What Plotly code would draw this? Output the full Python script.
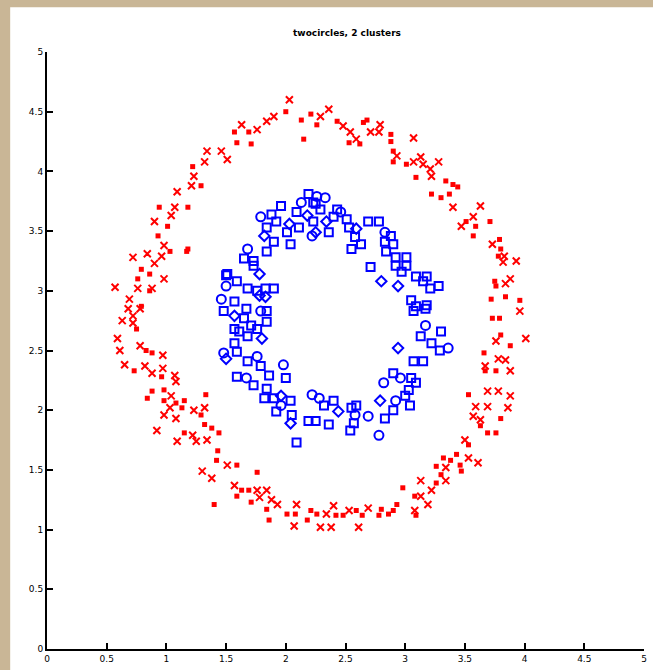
import plotly.graph_objects as go

# ---- data ----
red_x_x = [2.03,1.90,1.84,1.76,1.63,1.46,1.51,1.34,1.32,1.23,1.21,1.09,1.07,1.04,0.90,0.98,0.96,0.84,0.72,0.90,
           0.98,0.88,0.57,0.76,0.69,0.68,0.78,0.72,0.63,0.72,0.59,0.61,0.78,0.97,0.65,0.82,0.88,0.97,1.07,1.08,
           1.04,1.03,0.98,1.08,1.23,1.32,0.92,1.09,1.22,1.25,1.34,1.51,1.30,1.38,1.57,1.76,1.84,1.78,1.88,1.93,
           2.09,2.07,2.34,2.38,2.29,2.40,2.53,2.61,2.69,3.08,3.19,3.13,3.22,3.13,3.34,3.34,3.61,3.53,3.50,3.63,
           3.57,3.86,3.69,3.59,3.88,3.78,3.69,3.88,3.67,3.84,3.78,4.01,3.76,3.96,3.84,3.88,3.93,3.82,3.83,3.73,
           3.47,3.57,3.63,3.40,3.22,3.28,3.21,3.15,3.13,3.07,3.07,2.93,2.79,2.78,2.71,2.59,2.54,2.48,2.36,2.29]
red_x_y = [4.60,4.46,4.42,4.35,4.39,4.17,4.10,4.17,4.08,3.96,3.88,3.83,3.70,3.63,3.58,3.38,3.29,3.31,3.28,3.23,
           3.10,3.02,3.03,3.02,2.93,2.85,2.85,2.79,2.75,2.73,2.60,2.50,2.54,2.46,2.38,2.37,2.31,2.35,2.29,2.24,
           2.12,2.02,1.96,1.93,2.00,2.02,1.83,1.74,1.79,1.74,1.75,1.54,1.49,1.43,1.37,1.33,1.33,1.27,1.25,1.21,
           1.21,1.03,1.13,1.02,1.02,1.20,1.16,1.02,1.18,1.16,1.21,1.28,1.33,1.41,1.41,1.52,1.56,1.60,1.75,1.92,
           1.95,2.02,2.03,2.03,2.12,2.16,2.16,2.33,2.37,2.42,2.43,2.60,2.58,2.83,3.06,3.10,3.25,3.24,3.29,3.39,
           3.54,3.62,3.71,3.70,3.96,4.08,4.02,4.06,4.12,4.08,4.28,4.13,4.39,4.33,4.33,4.27,4.33,4.38,4.52,4.46]

red_dot_x = [2.00,2.13,2.15,1.69,1.71,1.57,1.59,1.22,1.29,1.18,0.94,1.01,0.93,1.18,0.79,0.76,0.79,1.03,1.17,0.86,
             0.86,0.75,0.83,0.88,0.73,0.96,0.88,0.84,0.98,0.98,1.08,1.15,1.13,1.33,1.29,1.15,1.32,1.38,1.44,1.43,
             1.42,1.59,1.40,1.76,1.63,1.59,1.69,1.71,1.84,2.01,2.08,2.21,2.18,1.86,2.26,2.42,2.48,2.59,2.64,2.78,
             2.80,2.86,2.90,2.93,3.09,3.08,2.98,3.26,3.30,3.47,3.26,3.32,3.46,3.38,3.43,3.53,3.76,3.69,3.63,3.80,
             3.53,3.67,3.76,3.66,3.88,3.80,3.73,3.79,3.96,3.84,3.72,3.76,3.75,3.78,3.80,3.79,3.57,3.71,3.59,3.51,
             3.37,3.30,3.22,3.44,3.40,3.34,3.09,3.01,2.90,2.90,2.88,2.88,2.68,2.65,2.62,2.53,2.43,2.21,2.26]
red_dot_y = [4.50,4.43,4.27,4.33,4.23,4.33,4.24,4.04,3.88,3.70,3.70,3.54,3.46,3.35,3.18,3.10,2.87,3.33,3.33,3.14,
             3.00,2.68,2.50,2.48,2.33,2.28,2.16,2.10,2.17,2.08,2.06,2.08,2.02,2.13,1.96,1.81,1.88,1.85,1.81,1.66,
             1.58,1.54,1.21,1.48,1.33,1.28,1.33,1.23,1.17,1.13,1.13,1.16,1.08,1.08,1.13,1.12,1.12,1.16,1.12,1.12,
             1.17,1.13,1.16,1.21,1.12,1.28,1.35,1.39,1.46,1.49,1.53,1.60,1.54,1.58,1.63,1.71,1.81,1.81,1.87,1.93,
             2.13,2.33,2.33,2.48,2.54,2.63,2.77,2.77,2.92,2.95,2.93,3.04,3.08,3.29,3.35,3.43,3.46,3.58,3.54,3.58,
             3.81,3.78,3.81,3.87,3.89,3.92,3.95,4.06,4.08,4.17,4.25,4.31,4.43,4.41,4.23,4.24,4.42,4.48,4.39]

blue_sq_x = [2.19,2.23,2.09,1.96,1.88,1.92,1.84,2.01,2.04,1.90,1.84,1.65,1.73,1.51,1.59,1.68,1.76,1.90,1.57,1.67,
             1.84,1.48,1.65,1.71,1.84,1.57,1.68,1.76,1.59,1.68,1.79,1.59,1.73,1.86,2.00,1.84,1.82,1.90,2.04,1.92,
             2.05,2.09,2.19,2.25,2.36,2.32,2.40,2.54,2.57,2.59,2.55,2.83,2.90,3.04,3.00,3.03,3.09,3.05,2.90,3.15,
             3.07,3.29,3.22,3.30,3.13,3.17,3.07,3.09,3.18,3.05,3.21,3.28,3.15,3.18,3.09,2.97,3.01,2.92,2.71,3.01,
             2.92,2.84,2.90,2.83,2.88,2.55,2.63,2.58,2.78,2.69,2.53,2.51,2.36,2.40,2.43,2.29,2.25,2.23,1.50,1.61,
             1.83,1.57,1.73,2.11]
blue_sq_y = [3.81,3.74,3.66,3.71,3.64,3.58,3.53,3.49,3.39,3.41,3.33,3.27,3.21,3.14,3.08,3.02,3.00,3.02,2.91,2.85,
             2.83,2.83,2.77,2.71,2.74,2.68,2.62,2.68,2.49,2.41,2.37,2.28,2.21,2.29,2.27,2.18,2.10,2.10,2.08,1.99,
             1.96,1.73,1.91,1.91,1.88,2.04,2.08,1.83,1.89,2.04,2.02,1.93,2.00,2.04,2.12,2.17,2.23,2.27,2.31,2.41,
             2.41,2.50,2.56,2.66,2.62,2.85,2.83,2.87,2.88,2.92,3.02,3.04,3.08,3.12,3.12,3.16,3.21,3.21,3.20,3.28,
             3.28,3.33,3.39,3.41,3.46,3.35,3.39,3.45,3.58,3.58,3.53,3.60,3.49,3.62,3.68,3.68,3.73,3.58,3.13,2.66,
             3.02,2.56,3.25,3.53]

blue_ci_x = [2.13,1.79,2.22,1.68,1.50,1.46,1.79,1.76,1.67,1.98,1.96,2.22,2.28,2.58,2.69,2.78,2.92,2.96,2.82,3.36,
             3.17,2.83,2.46,2.33,2.26,1.48]
blue_ci_y = [3.74,3.62,3.46,3.35,3.04,2.93,2.83,2.45,2.27,2.38,2.04,2.13,2.10,1.96,1.95,1.79,2.08,2.27,2.23,2.52,
             2.71,3.49,3.66,3.78,3.79,2.48]

blue_di_x = [2.18,1.82,1.78,1.83,1.57,1.80,1.50,1.96,2.04,2.44,2.79,2.94,2.94,2.80,2.59,2.34,2.25,1.78,2.03]
blue_di_y = [3.63,3.46,3.14,2.95,2.79,2.60,2.43,2.12,1.89,1.99,2.08,2.52,3.04,3.08,3.52,3.58,3.49,2.96,3.56]

tick_vals = [0, 0.5, 1, 1.5, 2, 2.5, 3, 3.5, 4, 4.5, 5]
tick_text = ["0", "0.5", "1", "1.5", "2", "2.5", "3", "3.5", "4", "4.5", "5"]

RED = "#ff0000"
BLUE = "#0000ff"
TAN = "#c9b696"

fig = go.Figure()
fig.add_trace(go.Scatter(x=red_x_x, y=red_x_y, mode="markers",
                         marker=dict(symbol="x-thin", size=7, color=RED, line=dict(color=RED, width=2))))
fig.add_trace(go.Scatter(x=red_dot_x, y=red_dot_y, mode="markers",
                         marker=dict(symbol="square", size=5, color=RED, line=dict(width=0))))
fig.add_trace(go.Scatter(x=blue_sq_x, y=blue_sq_y, mode="markers",
                         marker=dict(symbol="square-open", size=8, color=BLUE, line=dict(color=BLUE, width=2))))
fig.add_trace(go.Scatter(x=blue_ci_x, y=blue_ci_y, mode="markers",
                         marker=dict(symbol="circle-open", size=9, color=BLUE, line=dict(color=BLUE, width=2))))
fig.add_trace(go.Scatter(x=blue_di_x, y=blue_di_y, mode="markers",
                         marker=dict(symbol="diamond-open", size=8, color=BLUE, line=dict(color=BLUE, width=2))))

axis_common = dict(range=[0, 5], tickmode="array", tickvals=tick_vals, ticktext=tick_text,
                   showline=True, linecolor="black", linewidth=2, ticks="inside", ticklen=6,
                   tickwidth=2, tickcolor="black", showgrid=False, zeroline=False,
                   tickfont=dict(family="DejaVu Sans", size=9, color="black"))

fig.update_layout(
    width=653, height=670,
    margin=dict(l=47, r=6, t=52, b=18),
    paper_bgcolor="white", plot_bgcolor="white",
    showlegend=False,
    title=dict(text="<b>twocircles, 2 clusters</b>", x=347 / 653, xanchor="center",
               y=1 - 33 / 670, yanchor="middle",
               font=dict(family="DejaVu Sans", size=9, color="black")),
    xaxis=dict(**axis_common),
    yaxis=dict(**axis_common),
    shapes=[
        # tan frame strips on the left and top edges of the page
        dict(type="rect", xref="paper", yref="paper", x0=-47/600 - 0.01, x1=(10-47)/600,
             y0=-18/600 - 0.01, y1=652/600 + 0.01, fillcolor=TAN, line=dict(width=0), layer="above"),
        dict(type="rect", xref="paper", yref="paper", x0=-47/600 - 0.01, x1=606/600 + 0.01,
             y0=(652-7)/600, y1=652/600 + 0.01, fillcolor=TAN, line=dict(width=0), layer="above"),
    ],
)

fig.write_html("out.html", config={"displayModeBar": False},
               post_script="document.body.style.margin='0';document.body.style.overflow='hidden';")
